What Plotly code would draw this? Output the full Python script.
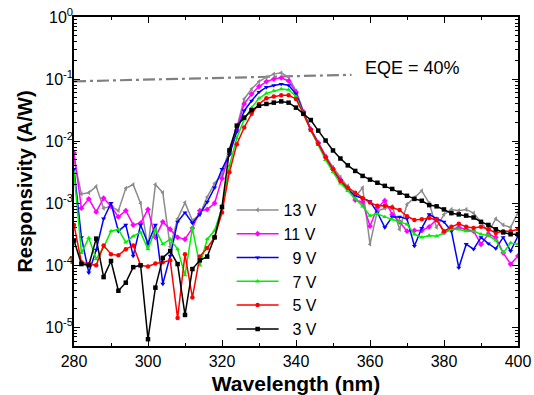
import plotly.graph_objects as go

# Wavelength grid (nm)
wavelength = list(range(280, 402, 2))

# log10 of responsivity (A/W)
log_resp_13V = [-2.30, -2.85, -2.83, -2.73, -3.08, -3.05, -3.12, -2.76, -2.70, -3.00,
                -3.72, -2.70, -2.83, -3.70, -3.25, -2.99, -3.28, -3.18, -2.90, -2.68,
                -2.53, -2.12, -1.78, -1.32, -1.16, -1.04, -0.97, -0.92, -0.90, -0.97,
                -1.19, -1.52, -1.80, -2.02, -2.24, -2.42, -2.58, -2.72, -2.90, -2.75,
                -3.66, -3.12, -3.08, -3.05, -3.42, -3.02, -2.91, -2.80, -3.00, -3.39,
                -3.18, -3.10, -3.12, -3.10, -3.16, -3.30, -3.47, -3.25, -3.35, -3.39,
                -3.15]
log_resp_11V = [-2.19, -3.08, -2.93, -3.14, -2.92, -3.05, -3.22, -3.12, -3.35, -3.32,
                -3.10, -3.55, -3.30, -3.42, -3.55, -3.58, -3.40, -3.12, -3.10, -3.00,
                -2.60, -2.20, -1.82, -1.40, -1.24, -1.12, -1.04, -1.00, -0.98, -1.03,
                -1.21, -1.53, -1.81, -2.03, -2.25, -2.45, -2.62, -2.76, -2.95, -2.98,
                -3.37, -3.07, -2.96, -3.18, -3.30, -3.45, -3.44, -3.44, -3.38, -3.26,
                -3.47, -3.42, -3.39, -3.42, -3.45, -3.66, -3.50, -3.55, -3.80, -3.98,
                -3.85]
log_resp_9V = [-2.45, -3.55, -4.12, -3.75, -3.25, -3.00, -3.45, -3.35, -3.85, -3.35,
               -3.65, -3.35, -4.30, -3.85, -3.30, -3.15, -3.32, -3.18, -2.98, -2.75,
               -2.45, -2.22, -1.85, -1.51, -1.35, -1.21, -1.13, -1.10, -1.08, -1.10,
               -1.24, -1.54, -1.82, -2.04, -2.27, -2.47, -2.64, -2.78, -2.88, -2.92,
               -2.97, -3.15, -3.39, -3.22, -3.22, -3.25, -3.69, -3.40, -3.18, -3.25,
               -3.30, -3.45, -4.04, -3.66, -3.74, -3.55, -3.65, -3.73, -3.55, -3.77,
               -3.53]
log_resp_7V = [-2.50, -3.80, -3.56, -3.90, -3.71, -3.45, -3.42, -3.63, -3.53, -3.47,
               -3.74, -3.42, -3.66, -3.58, -3.74, -4.16, -3.40, -4.00, -3.58, -3.44,
               -3.08, -2.40, -1.95, -1.65, -1.46, -1.31, -1.23, -1.19, -1.16, -1.17,
               -1.28, -1.55, -1.83, -2.06, -2.30, -2.50, -2.68, -2.80, -2.92, -3.05,
               -3.20, -3.17, -3.22, -3.26, -3.30, -3.34, -3.50, -3.55, -3.52, -3.53,
               -3.48, -3.42, -3.42, -3.45, -3.45, -3.50, -3.52, -3.60, -3.80, -3.64,
               -3.66]
log_resp_5V = [-3.35, -3.95, -3.98, -4.00, -3.68, -3.82, -3.84, -3.74, -3.68, -4.00,
               -4.02, -3.97, -3.95, -3.92, -4.85, -3.82, -4.52, -3.86, -3.72, -3.55,
               -3.15, -2.50, -2.05, -1.78, -1.56, -1.40, -1.31, -1.28, -1.26, -1.26,
               -1.32, -1.56, -1.82, -2.04, -2.26, -2.45, -2.64, -2.75, -2.83, -2.92,
               -2.99, -3.04, -3.04, -3.07, -3.11, -3.21, -3.27, -3.26, -3.24, -3.27,
               -3.45, -3.38, -3.33, -3.38, -3.40, -3.38, -3.42, -3.48, -3.45, -3.45,
               -3.42]
log_resp_3V = [-3.60, -3.98, -4.00, -3.57, -4.19, -3.93, -4.41, -4.28, -4.03, -4.00,
               -5.19, -4.36, -3.88, -3.77, -3.98, -4.80, -4.06, -3.92, -3.86, -3.55,
               -3.06, -2.15, -1.75, -1.62, -1.50, -1.43, -1.40, -1.38, -1.36, -1.38,
               -1.46, -1.56, -1.66, -1.83, -1.99, -2.15, -2.28, -2.39, -2.48, -2.56,
               -2.62, -2.67, -2.72, -2.77, -2.83, -2.88, -2.93, -2.96, -3.03, -3.05,
               -3.10, -3.16, -3.18, -3.20, -3.23, -3.30, -3.35, -3.42, -3.47, -3.50,
               -3.50]

series_names = ["13 V", "11 V", "\u20079 V", "\u20077 V", "\u20075 V", "\u20073 V"]
series_logs = [log_resp_13V, log_resp_11V, log_resp_9V, log_resp_7V, log_resp_5V, log_resp_3V]
series_colors = ["#8c8c8c", "#ff00ff", "#0000ff", "#00ee00", "#ff0000", "#000000"]
series_symbols = ["triangle-left", "diamond", "triangle-down", "triangle-up", "circle", "square"]

# EQE = 40% reference line (end points)
eqe_wl = [280, 355]
eqe_resp = [0.092, 0.117]

y_tick_vals = [1e-5, 1e-4, 1e-3, 1e-2, 1e-1, 1]
y_tick_text = ["10<sup>-5</sup>", "10<sup>-4</sup>", "10<sup>-3</sup>",
               "10<sup>-2</sup>", "10<sup>-1</sup>", "10<sup>0</sup>"]
x_tick_vals = [280, 300, 320, 340, 360, 380, 400]

FONT = "Arial, Liberation Sans, sans-serif"

fig = go.Figure()

fig.add_trace(go.Scatter(
    x=eqe_wl, y=eqe_resp, mode="lines", showlegend=False,
    line=dict(color="#808080", width=2.2, dash="12px,4px,3px,4px"),
    hoverinfo="skip"))

for name, logs, color, sym in zip(series_names, series_logs, series_colors, series_symbols):
    assert len(logs) == len(wavelength)
    fig.add_trace(go.Scatter(
        x=wavelength, y=[10 ** v for v in logs], name=name, mode="lines+markers",
        line=dict(color=color, width=1.5),
        marker=dict(symbol=sym, size=4.5, color=color, line=dict(width=0))))

minor_y = [m * 10 ** k for k in range(-6, 1) for m in range(2, 10)]

fig.update_layout(
    template="none",
    autosize=False,
    width=534, height=395,
    margin=dict(l=74, r=16, t=17, b=49, pad=0, autoexpand=False),
    paper_bgcolor="white", plot_bgcolor="white",
    font=dict(family=FONT, size=16, color="black"),
    showlegend=True,
    legend=dict(x=0.355, y=0.465, xanchor="left", yanchor="top",
                bgcolor="rgba(0,0,0,0)", borderwidth=0,
                font=dict(family=FONT, size=16, color="black"),
                itemwidth=42, tracegroupgap=0),
    xaxis=dict(range=[280, 400], tickvals=x_tick_vals, ticks="inside", ticklen=6,
               tickwidth=1.3, tickcolor="black", showline=True, linewidth=1.5,
               linecolor="black", mirror="allticks", showgrid=False, zeroline=False,
               automargin=False,
               tickfont=dict(size=16), ticklabelstandoff=0,
               minor=dict(ticks="inside", ticklen=3.5, tickwidth=1.2, tickcolor="black",
                          dtick=10, tick0=280, showgrid=False),
               title=dict(text="<b>Wavelength (nm)</b>", font=dict(size=21), standoff=12)),
    yaxis=dict(type="log", range=[-5.3, 0], tickvals=y_tick_vals, ticktext=y_tick_text,
               ticks="inside", ticklen=6, tickwidth=1.3, tickcolor="black",
               showline=True, linewidth=1.5, linecolor="black", mirror="allticks",
               showgrid=False, zeroline=False, automargin=False,
               tickfont=dict(size=16), ticklabelstandoff=-4,
               minor=dict(ticks="inside", ticklen=3.5, tickwidth=1.0, tickcolor="black",
                          tickvals=minor_y, showgrid=False),
               title=dict(text="<b>Responsivity (A/W)</b>", font=dict(size=20), standoff=7)),
    annotations=[dict(x=358.2, y=-0.82, xref="x", yref="y", text="EQE = 40%",
                      showarrow=False, xanchor="left", yanchor="middle",
                      font=dict(family=FONT, size=18, color="black"))],
)

fig.write_html("out.html", config={"displayModeBar": False, "responsive": False},
               post_script="document.body.style.margin='0px';")
